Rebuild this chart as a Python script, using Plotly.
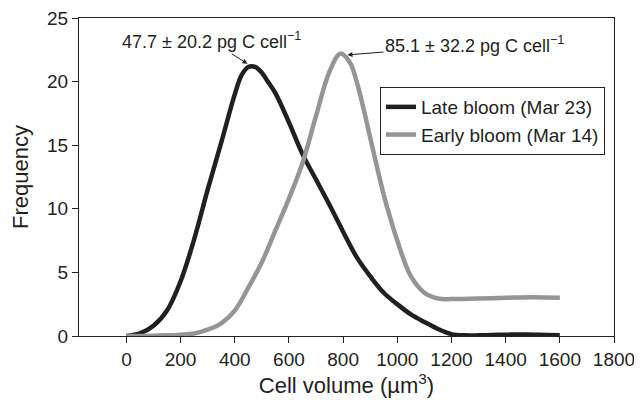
import plotly.graph_objects as go

# Cell volume (µm3) and frequency readings
late_x = [0, 50, 100, 150, 200, 250, 300, 350, 400, 425, 450, 475, 500, 525, 550, 600, 650, 700, 750, 800, 850, 900, 950, 1000, 1050, 1100, 1150, 1200, 1250, 1300, 1350, 1400, 1450, 1500, 1550, 1600]
late_y = [0, 0.2, 0.8, 2.0, 4.3, 7.6, 11.5, 15.2, 19.0, 20.5, 21.15, 21.15, 20.7, 19.9, 19.1, 16.8, 14.3, 12.3, 10.3, 8.2, 6.2, 4.7, 3.4, 2.5, 1.7, 1.1, 0.55, 0.15, 0.05, 0.05, 0.08, 0.1, 0.12, 0.1, 0.08, 0.05]

early_x = [0, 50, 100, 150, 200, 250, 300, 350, 400, 450, 500, 550, 600, 650, 700, 750, 790, 825, 850, 875, 900, 925, 950, 975, 1000, 1050, 1100, 1150, 1200, 1300, 1400, 1500, 1600]
early_y = [0, 0, 0.02, 0.05, 0.1, 0.2, 0.5, 1.0, 2.0, 3.8, 5.8, 8.3, 10.8, 13.6, 17.3, 20.8, 22.2, 21.5, 20.0, 17.9, 15.6, 13.3, 11.1, 9.2, 7.5, 4.7, 3.4, 2.95, 2.9, 2.95, 3.0, 3.05, 3.0]

series_names = ["Late bloom (Mar 23)", "Early bloom (Mar 14)"]
x_ticks = [0, 200, 400, 600, 800, 1000, 1200, 1400, 1600, 1800]
y_ticks = [0, 5, 10, 15, 20, 25]
late_label = "47.7 ± 20.2 pg C cell<sup>−1</sup>"
early_label = "85.1 ± 32.2 pg C cell<sup>−1</sup>"

DARK = "#231f20"
GREY = "#939598"
FONT = "Liberation Sans, Arial, Helvetica, sans-serif"

fig = go.Figure()
fig.add_trace(go.Scatter(x=late_x, y=late_y, mode="lines", name=series_names[0],
                         line=dict(color=DARK, width=4.5, shape="spline", smoothing=1.0)))
fig.add_trace(go.Scatter(x=early_x, y=early_y, mode="lines", name=series_names[1],
                         line=dict(color=GREY, width=4.5, shape="spline", smoothing=1.0)))

fig.add_annotation(x=447, y=21.4, xref="x", yref="y", text=late_label,
                   showarrow=True, arrowhead=2, arrowsize=1, arrowwidth=1, arrowcolor=DARK,
                   axref="pixel", ayref="pixel", ax=-36, ay=-23,
                   font=dict(size=18, color=DARK, family=FONT))
fig.add_annotation(x=816, y=22.1, xref="x", yref="y", text=early_label,
                   showarrow=True, arrowhead=2, arrowsize=1, arrowwidth=1, arrowcolor=DARK,
                   axref="pixel", ayref="pixel", ax=127, ay=-10,
                   font=dict(size=18, color=DARK, family=FONT))

fig.update_layout(
    width=634, height=392,
    margin=dict(l=71, r=28, t=10, b=64),
    paper_bgcolor="white", plot_bgcolor="white",
    font=dict(family=FONT, color=DARK, size=19),
    showlegend=True,
    legend=dict(x=0.5626, y=0.783, xanchor="left", yanchor="top",
                bordercolor=DARK, borderwidth=1, bgcolor="white",
                font=dict(size=19, color=DARK, family=FONT),
                itemwidth=30, tracegroupgap=0),
)
fig.update_xaxes(range=[-175, 1800], tickvals=x_ticks, ticks="outside", ticklen=6,
                 tickcolor=DARK, showline=True, linecolor=DARK, linewidth=1, mirror=True,
                 showgrid=False, zeroline=False, tickfont=dict(size=19), automargin=False,
                 ticklabeloverflow="allow",
                 title=dict(text="Cell volume (µm<sup>3</sup>)", font=dict(size=22), standoff=8))
fig.update_yaxes(range=[0, 25], tickvals=y_ticks, ticks="outside", ticklen=6,
                 tickcolor=DARK, showline=True, linecolor=DARK, linewidth=1, mirror=True,
                 showgrid=False, zeroline=False, tickfont=dict(size=19), automargin=False,
                 ticklabeloverflow="allow",
                 title=dict(text="Frequency", font=dict(size=22), standoff=12))

fig.write_html("out.html")
